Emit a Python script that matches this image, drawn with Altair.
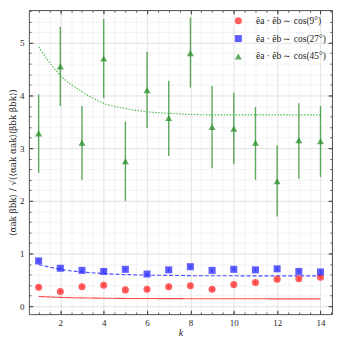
import altair as alt
import pandas as pd

k = list(range(1, 15))

# series values
red_y = [0.36, 0.28, 0.37, 0.40, 0.31, 0.32, 0.37, 0.39, 0.32, 0.41, 0.45, 0.51, 0.52, 0.55]
red_err = [0.03] * 14
red_fit = [0.185, 0.168, 0.158, 0.152, 0.148, 0.146, 0.144, 0.143, 0.142, 0.141, 0.141, 0.140, 0.140, 0.140]

blue_y = [0.86, 0.72, 0.68, 0.66, 0.70, 0.61, 0.69, 0.75, 0.68, 0.70, 0.69, 0.71, 0.66, 0.65]
blue_err = [0.03] * 14
blue_fit = [0.79, 0.70, 0.65, 0.62, 0.60, 0.59, 0.585, 0.58, 0.578, 0.577, 0.576, 0.575, 0.575, 0.575]

green_y = [3.28, 4.55, 3.10, 4.70, 2.75, 4.10, 3.57, 4.80, 3.40, 3.37, 3.10, 2.37, 3.15, 3.13]
green_lo = [2.53, 3.80, 2.40, 3.95, 2.00, 3.38, 2.85, 4.15, 2.62, 2.70, 2.40, 1.70, 2.42, 2.45]
green_hi = [4.02, 5.30, 3.80, 5.45, 3.50, 4.83, 4.28, 5.48, 4.18, 4.05, 3.78, 3.05, 3.85, 3.80]
green_fit = [4.92, 4.38, 4.07, 3.85, 3.75, 3.69, 3.66, 3.64, 3.63, 3.63, 3.63, 3.63, 3.63, 3.63]

labels = ["êa · êb ∼ cos(9°)", "êa · êb ∼ cos(27°)", "êa · êb ∼ cos(45°)"]
colors = ["#ff2a2a", "#2a2aff", "#2a8f2a"]
fit_colors = ["#ff4d4d", "#4d4dff", "#4db84d"]
shapes = ["circle", "square", "triangle-up"]
dashes = [[1, 0], [4, 2], [1.5, 1.5]]

x_major = [2, 4, 6, 8, 10, 12, 14]
x_minor = [v / 2 for v in range(2, 30)]
y_major = [0, 1, 2, 3, 4, 5]
y_minor = [round(v * 0.2, 1) for v in range(0, 29)]

rows = []
for lab, ys, lo, hi, fit in [
    (labels[0], red_y, [a - e for a, e in zip(red_y, red_err)], [a + e for a, e in zip(red_y, red_err)], red_fit),
    (labels[1], blue_y, [a - e for a, e in zip(blue_y, blue_err)], [a + e for a, e in zip(blue_y, blue_err)], blue_fit),
    (labels[2], green_y, green_lo, green_hi, green_fit),
]:
    for i in range(14):
        rows.append({"k": k[i], "y": ys[i], "lo": lo[i], "hi": hi[i], "fit": fit[i], "series": lab})
df = pd.DataFrame(rows)

W, H = 305, 306
xs = alt.Scale(domain=[0.55, 14.53], nice=False, zero=False)
ys_ = alt.Scale(domain=[-0.15, 5.62], nice=False, zero=False)
FONT = "Liberation Serif"


def ax(**kw):
    base = dict(labels=False, ticks=False, domain=False, grid=False, title=None)
    base.update(kw)
    return alt.Axis(**base)


base = alt.Chart(df)

# minor grid
l_minor = base.mark_line(opacity=0).encode(
    x=alt.X("k:Q", scale=xs, axis=ax(orient="bottom", values=x_minor, grid=True, gridColor="#ececec", gridWidth=0.6)),
    y=alt.Y("fit:Q", scale=ys_, axis=ax(orient="left", values=y_minor, grid=True, gridColor="#ececec", gridWidth=0.6)),
    detail="series:N",
)
# major grid + labels
l_major = base.mark_line(opacity=0).encode(
    x=alt.X("k:Q", scale=xs, axis=alt.Axis(orient="bottom", values=x_major, grid=True, gridColor="#dcdcdc",
                                          gridWidth=0.7, ticks=False, domain=False, labelFont=FONT,
                                          labelFontSize=9, labelColor="#222", labelPadding=4, title="k",
                                          titleFont=FONT, titleFontStyle="italic", titleFontWeight="normal",
                                          titleFontSize=10, titleColor="#222", titlePadding=0)),
    y=alt.Y("fit:Q", scale=ys_, axis=alt.Axis(orient="left", values=y_major, grid=True, gridColor="#dcdcdc",
                                           gridWidth=0.7, ticks=False, domain=False, labelFont=FONT,
                                           labelFontSize=9, labelColor="#222", labelPadding=5,
                                           title="⟨αak βbk⟩ / √(⟨αak αak⟩⟨βbk βbk⟩)",
                                           titleFont="DejaVu Serif", titleFontWeight="normal", titleFontSize=8.8,
                                           titleColor="#222", titlePadding=2)),
    detail="series:N",
)


def tick_layer(xv, yv, size, inner_first):
    xo = "top" if inner_first else "bottom"
    yo = "right" if inner_first else "left"
    return base.mark_line(opacity=0).encode(
        x=alt.X("k:Q", scale=xs, axis=ax(values=xv, ticks=True, tickSize=size, tickColor="#444",
                                        orient=xo, offset=-H)),
        y=alt.Y("fit:Q", scale=ys_, axis=ax(values=yv, ticks=True, tickSize=size, tickColor="#444",
                                         orient=yo, offset=-W)),
        detail="series:N",
    )


t1 = tick_layer(x_major, y_major, 4, True)
t2 = tick_layer(x_major, y_major, 4, False)
t3 = tick_layer(x_minor, y_minor, 2, True)
t4 = tick_layer(x_minor, y_minor, 2, False)

noax_x = alt.X("k:Q", scale=xs, axis=None)

fits = base.mark_line(strokeWidth=1.1, interpolate="monotone").encode(
    x=noax_x,
    y=alt.Y("fit:Q", scale=ys_, axis=None),
    color=alt.Color("series:N", scale=alt.Scale(domain=labels, range=fit_colors), legend=None),
    strokeDash=alt.StrokeDash("series:N", scale=alt.Scale(domain=labels, range=dashes), legend=None),
)

bars = base.mark_rule(strokeWidth=1.4, opacity=0.75).encode(
    x=noax_x,
    y=alt.Y("lo:Q", scale=ys_, axis=None),
    y2="hi:Q",
    color=alt.Color("series:N", scale=alt.Scale(domain=labels, range=colors), legend=None),
)

leg = alt.Legend(title=None, orient="top-right", offset=6, labelFont=FONT, labelFontSize=9.5,
                 labelColor="#222", symbolSize=50, symbolOpacity=0.75, rowPadding=4, labelOffset=13)

pts = base.mark_point(filled=True, size=50, opacity=0.75, strokeWidth=1.5).encode(
    x=noax_x,
    y=alt.Y("y:Q", scale=ys_, axis=None),
    color=alt.Color("series:N", scale=alt.Scale(domain=labels, range=colors), legend=leg),
    shape=alt.Shape("series:N", scale=alt.Scale(domain=labels, range=shapes), legend=leg),
)

chart = alt.layer(l_minor, l_major, t1, t2, t3, t4, fits, bars, pts).resolve_axis(
    x="independent", y="independent"
).resolve_scale(color="independent", strokeDash="independent", shape="independent").properties(
    width=W, height=H, padding=0
).configure_view(stroke="#555", strokeWidth=1)

chart.save("out.html", embed_options={"renderer": "svg", "actions": False})
